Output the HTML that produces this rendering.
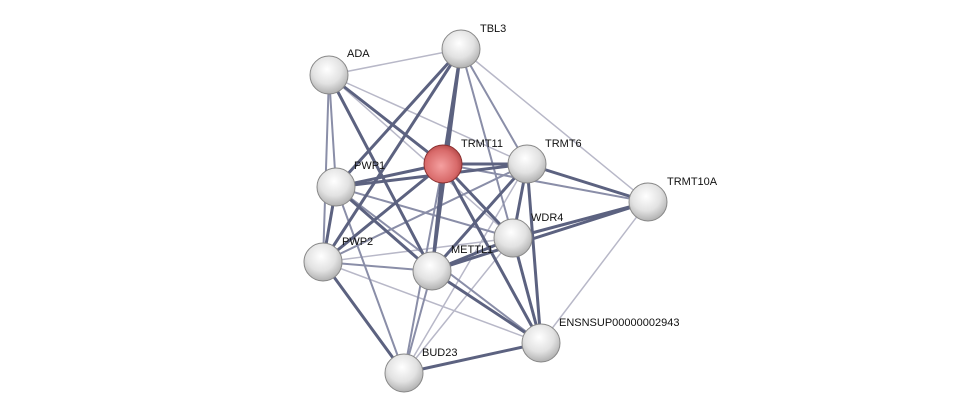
<!DOCTYPE html>
<html><head><meta charset="utf-8"><style>
html,body{margin:0;padding:0;background:#fff;}
svg{display:block;}
text{font-family:"Liberation Sans",sans-serif;font-size:11px;fill:#111;}
</style></head><body>
<svg width="976" height="418" viewBox="0 0 976 418" xmlns="http://www.w3.org/2000/svg">
<defs>
<radialGradient id="g" cx="0.45" cy="0.35" r="0.7">
<stop offset="0" stop-color="#ffffff"/><stop offset="0.55" stop-color="#e2e2e2"/><stop offset="1" stop-color="#a8a8a8"/>
</radialGradient>
<radialGradient id="r" cx="0.45" cy="0.55" r="0.7">
<stop offset="0" stop-color="#f5a0a0"/><stop offset="0.6" stop-color="#d86a6a"/><stop offset="1" stop-color="#9a3030"/>
</radialGradient>
</defs>
<g stroke-linecap="round">
<!-- light -->
<g stroke="#b8b8c8" stroke-width="1.5">
<line x1="329" y1="75" x2="461" y2="49"/>
<line x1="329" y1="75" x2="527" y2="164"/>
<line x1="329" y1="75" x2="513" y2="238"/>
<line x1="461" y1="49" x2="648" y2="202"/>
<line x1="527" y1="164" x2="404" y2="373"/>
<line x1="648" y1="202" x2="541" y2="343"/>
<line x1="513" y1="238" x2="404" y2="373"/>
<line x1="323" y1="262" x2="541" y2="343"/>
<line x1="323" y1="262" x2="513" y2="238"/>
</g>
<g stroke="#8a8ea8" stroke-width="2">
<line x1="329" y1="75" x2="336" y2="187"/>
<line x1="329" y1="75" x2="323" y2="262"/>
<line x1="461" y1="49" x2="527" y2="164"/>
<line x1="461" y1="49" x2="513" y2="238"/>
<line x1="443" y1="164" x2="648" y2="202"/>
<line x1="443" y1="164" x2="404" y2="373"/>
<line x1="527" y1="164" x2="323" y2="262"/>
<line x1="513" y1="238" x2="336" y2="187"/>
<line x1="336" y1="187" x2="541" y2="343"/>
<line x1="336" y1="187" x2="404" y2="373"/>
<line x1="323" y1="262" x2="432" y2="271"/>
<line x1="432" y1="271" x2="404" y2="373"/>
</g>
<g stroke="#5c6280" stroke-width="3">
<line x1="329" y1="75" x2="443" y2="164"/>
<line x1="329" y1="75" x2="432" y2="271"/>
<line x1="461" y1="49" x2="443" y2="164"/>
<line x1="461" y1="49" x2="336" y2="187"/>
<line x1="461" y1="49" x2="323" y2="262"/>
<line x1="461" y1="49" x2="432" y2="271"/>
<line x1="443" y1="164" x2="527" y2="164"/>
<line x1="443" y1="164" x2="336" y2="187"/>
<line x1="443" y1="164" x2="513" y2="238"/>
<line x1="443" y1="164" x2="432" y2="271"/>
<line x1="443" y1="164" x2="541" y2="343"/>
<line x1="443" y1="164" x2="323" y2="262"/>
<line x1="527" y1="164" x2="648" y2="202"/>
<line x1="527" y1="164" x2="513" y2="238"/>
<line x1="527" y1="164" x2="432" y2="271"/>
<line x1="527" y1="164" x2="541" y2="343"/>
<line x1="527" y1="164" x2="336" y2="187"/>
<line x1="648" y1="202" x2="513" y2="238"/>
<line x1="648" y1="202" x2="432" y2="271"/>
<line x1="513" y1="238" x2="432" y2="271"/>
<line x1="513" y1="238" x2="541" y2="343"/>
<line x1="336" y1="187" x2="323" y2="262"/>
<line x1="336" y1="187" x2="432" y2="271"/>
<line x1="323" y1="262" x2="404" y2="373"/>
<line x1="432" y1="271" x2="541" y2="343"/>
<line x1="404" y1="373" x2="541" y2="343"/>
</g>
</g>
<g stroke="#888" stroke-width="1">
<circle cx="329" cy="75" r="19" fill="url(#g)"/>
<circle cx="461" cy="49" r="19" fill="url(#g)"/>
<circle cx="443" cy="164" r="19" fill="url(#r)" stroke="#8a3030"/>
<circle cx="527" cy="164" r="19" fill="url(#g)"/>
<circle cx="336" cy="187" r="19" fill="url(#g)"/>
<circle cx="648" cy="202" r="19" fill="url(#g)"/>
<circle cx="513" cy="238" r="19" fill="url(#g)"/>
<circle cx="323" cy="262" r="19" fill="url(#g)"/>
<circle cx="432" cy="271" r="19" fill="url(#g)"/>
<circle cx="541" cy="343" r="19" fill="url(#g)"/>
<circle cx="404" cy="373" r="19" fill="url(#g)"/>
</g>
<text x="347" y="57">ADA</text>
<text x="480" y="32">TBL3</text>
<text x="461" y="147">TRMT11</text>
<text x="545" y="147">TRMT6</text>
<text x="354" y="169">PWP1</text>
<text x="667" y="185">TRMT10A</text>
<text x="531" y="221">WDR4</text>
<text x="342" y="245">PWP2</text>
<text x="451" y="253">METTL1</text>
<text x="559" y="326">ENSNSUP00000002943</text>
<text x="422" y="356">BUD23</text>
</svg>
</body></html>
